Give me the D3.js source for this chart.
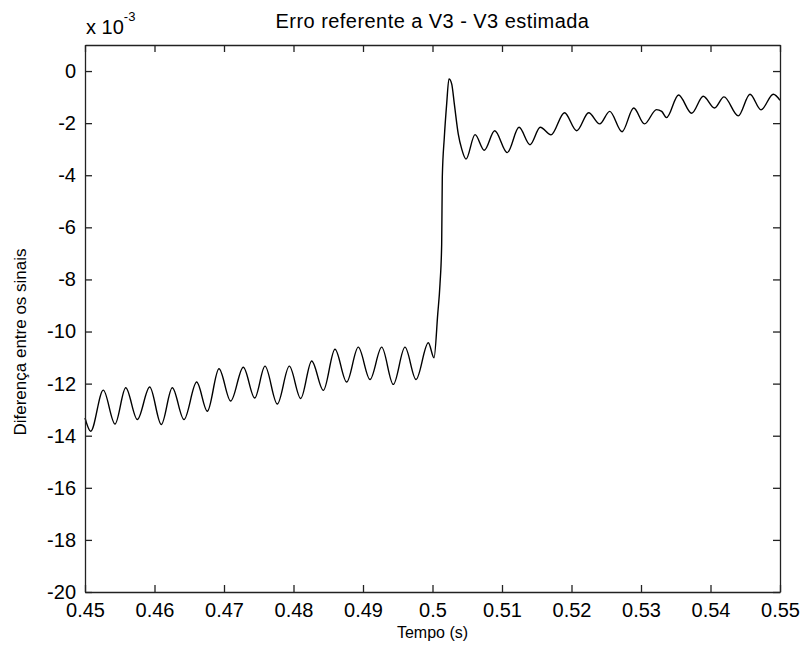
<!DOCTYPE html>
<html>
<head>
<meta charset="utf-8">
<script src="https://cdn.jsdelivr.net/npm/d3@7"></script>
<style>
html,body{margin:0;padding:0;background:#fff;}
svg{display:block;}
text{font-family:"Liberation Sans",Arial,Helvetica,sans-serif;fill:#000;}
</style>
</head>
<body>
<svg id="chart" width="804" height="652"></svg>
<script>
// Time (s)
const tempo = [0.45000,0.45082,0.45263,0.45432,0.45586,0.45753,0.45931,0.46098,0.46256,0.46424,
0.46607,0.46760,0.46928,0.47096,0.47278,0.47442,0.47590,0.47767,0.47940,0.48104,
0.48262,0.48429,0.48597,0.48765,0.48932,0.49101,0.49269,0.49436,0.49604,0.49763,
0.49940,0.50022,0.50075,0.50108,0.50132,0.50141,0.50170,0.50204,0.50237,0.50276,
0.50314,0.50371,0.50420,0.50482,0.50612,0.50745,0.50895,0.51076,0.51245,0.51403,
0.51551,0.51705,0.51899,0.52075,0.52247,0.52406,0.52550,0.52727,0.52895,0.53050,
0.53223,0.53298,0.53367,0.53540,0.53729,0.53896,0.54058,0.54194,0.54400,0.54568,
0.54727,0.54904,0.55000];
// Difference between signals (x 10^-3)
const diferenca = [-13.32,-13.83,-12.25,-13.55,-12.16,-13.38,-12.13,-13.57,-12.16,-13.38,
-11.94,-13.06,-11.43,-12.67,-11.37,-12.55,-11.33,-12.78,-11.33,-12.57,
-11.13,-12.26,-10.68,-11.94,-10.60,-11.84,-10.60,-12.03,-10.60,-11.84,
-10.43,-11.01,-9.34,-8.17,-6.65,-4.08,-2.55,-1.26,-0.30,-0.49,
-1.26,-2.42,-2.99,-3.38,-2.44,-3.04,-2.29,-3.13,-2.16,-2.83,
-2.16,-2.45,-1.60,-2.29,-1.60,-2.03,-1.55,-2.33,-1.42,-2.03,
-1.48,-1.55,-1.79,-0.92,-1.62,-0.97,-1.42,-0.99,-1.72,-0.89,
-1.49,-0.89,-1.12];
const xTicks = [0.45,0.46,0.47,0.48,0.49,0.5,0.51,0.52,0.53,0.54,0.55];
const xTickLabels = ["0.45","0.46","0.47","0.48","0.49","0.5","0.51","0.52","0.53","0.54","0.55"];
const yTicks = [0,-2,-4,-6,-8,-10,-12,-14,-16,-18,-20];
const yTickLabels = ["0","-2","-4","-6","-8","-10","-12","-14","-16","-18","-20"];
const titleText = "Erro referente a V3 - V3 estimada";
const xLabelText = "Tempo (s)";
const yLabelText = "Diferença entre os sinais";

const L = 85, R = 780, T = 45, B = 592;
const svg = d3.select("#chart");
const x = d3.scaleLinear().domain([0.45, 0.55]).range([L, R]);
const y = d3.scaleLinear().domain([-20, 1]).range([B, T]);

const fsTick = 20, fsTitle = 20, fsXLabel = 16, fsYLabel = 17;
const axisColor = "#222";
const fontFam = '"Liberation Sans", Arial, sans-serif';

// line
const data = tempo.map((t, i) => [t, diferenca[i]]);
const line = d3.line().x(d => x(d[0])).y(d => y(d[1])).curve(d3.curveMonotoneX);
svg.append("path").datum(data).attr("d", line)
  .attr("fill", "none").attr("stroke", "#000").attr("stroke-width", 1.4)
  .attr("stroke-linejoin", "round");

// axes (MATLAB style: ticks inward, box)
const tk = 7;
const gB = svg.append("g").attr("transform", `translate(0,${B})`)
  .call(d3.axisBottom(x).tickValues(xTicks).tickSizeInner(-tk).tickSizeOuter(0).tickPadding(11)
    .tickFormat((d, i) => xTickLabels[i]));
const gT = svg.append("g").attr("transform", `translate(0,${T})`)
  .call(d3.axisTop(x).tickValues(xTicks).tickSizeInner(-tk).tickSizeOuter(0).tickFormat(""));
const gL = svg.append("g").attr("transform", `translate(${L},0)`)
  .call(d3.axisLeft(y).tickValues(yTicks).tickSizeInner(-tk).tickSizeOuter(0).tickPadding(9)
    .tickFormat((d, i) => yTickLabels[i]));
const gR = svg.append("g").attr("transform", `translate(${R},0)`)
  .call(d3.axisRight(y).tickValues(yTicks).tickSizeInner(-tk).tickSizeOuter(0).tickFormat(""));

[gB, gT, gL, gR].forEach(g => {
  g.selectAll(".domain").attr("stroke", axisColor).attr("stroke-width", 1.3);
  g.selectAll(".tick line").attr("stroke", axisColor).attr("stroke-width", 1.3);
  g.selectAll("text").attr("font-size", fsTick).attr("font-family", fontFam).attr("fill", "#000");
});

// exponent label
const ex = svg.append("text").attr("x", 86).attr("y", 34).attr("font-size", fsTick);
ex.append("tspan").text("x 10");
ex.append("tspan").attr("dy", -13).attr("font-size", 13).text("-3");

// title
svg.append("text").attr("x", (L + R) / 2).attr("y", 28).attr("text-anchor", "middle")
  .attr("font-size", fsTitle).attr("letter-spacing", 0.45).text(titleText);
// x label
svg.append("text").attr("x", (L + R) / 2).attr("y", 638).attr("text-anchor", "middle")
  .attr("font-size", fsXLabel).text(xLabelText);
// y label
svg.append("text").attr("transform", `translate(26,342) rotate(-90)`)
  .attr("text-anchor", "middle").attr("font-size", fsYLabel).text(yLabelText);
</script>
</body>
</html>
